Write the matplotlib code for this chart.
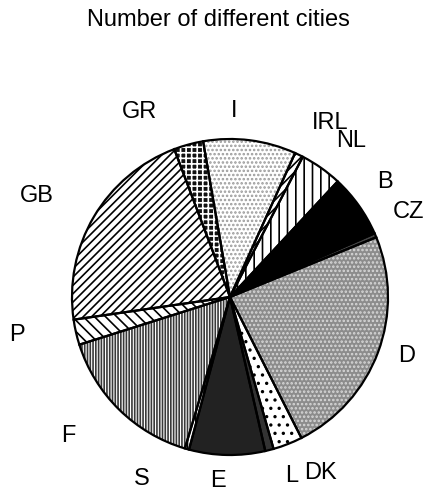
import numpy as np
import matplotlib
matplotlib.use("Agg")
import matplotlib.pyplot as plt

plt.rcParams["font.family"] = ["Liberation Sans", "DejaVu Sans"]
plt.rcParams["hatch.linewidth"] = 1.2

# Countries, clockwise from the top
countries = ["I", "IRL", "NL", "B", "CZ", "D", "DK", "L", "E", "S", "F", "P", "GB", "GR"]
cities = [22, 2, 10, 15, 1, 55, 7, 2, 18, 1, 36, 6, 50, 7]

# fill, hatch, hatch colour for each slice
fills = ["white", "white", "white", "black", "#444444", "#8c8c8c", "white",
         "#333333", "#222222", "white", "white", "white", "white", "#111111"]
hatches = ["....", "////", "||", "", "", "....", "..", "", "", "||", "||||||",
           "\\\\\\", "////", "+++"]
hatch_cols = ["#9a9a9a", "black", "black", "black", "black", "#d8d8d8", "black",
              "black", "black", "black", "#3a3a3a", "black", "black", "white"]

# label placement: (angle in degrees, distance in radii)
label_pos = [(88.8, 1.18), (60, 1.27), (52, 1.25), (36.6, 1.22), (25.5, 1.25),
             (-18.3, 1.18), (-62.8, 1.25), (-71, 1.2), (-93.6, 1.165), (-115.8, 1.28),
             (-139.2, 1.35), (-170, 1.37), (152.4, 1.38), (116, 1.30)]

W, H = 426, 495
fig = plt.figure(figsize=(W / 100, H / 100), dpi=100)
cx, cy, r = 230, 297, 158
ax = fig.add_axes([(cx - r) / W, (H - cy - r) / H, 2 * r / W, 2 * r / H])

start = 99.8
# hatched fills first, then plain outlines on top
wedges, _ = ax.pie(cities, startangle=start, counterclock=False,
                   colors=fills, wedgeprops=dict(linewidth=0))
for w, h, hc in zip(wedges, hatches, hatch_cols):
    w.set_hatch(h)
    w.set_edgecolor(hc)
    w.set_clip_on(False)
outline, _ = ax.pie(cities, startangle=start, counterclock=False,
                    wedgeprops=dict(fill=False, edgecolor="black", linewidth=1.6))
for w in outline:
    w.set_clip_on(False)

ax.set_xlim(-1, 1)
ax.set_ylim(-1, 1)
ax.set_aspect("auto")
ax.axis("off")

for name, (ang, dist) in zip(countries, label_pos):
    a = np.deg2rad(ang)
    ax.text(dist * np.cos(a), dist * np.sin(a), name, ha="center", va="center",
            fontsize=17, clip_on=False)

fig.text(218 / W, 1 - 20 / H, "Number of different cities", ha="center",
         va="center", fontsize=17)

fig.savefig("out.png", dpi=100)
